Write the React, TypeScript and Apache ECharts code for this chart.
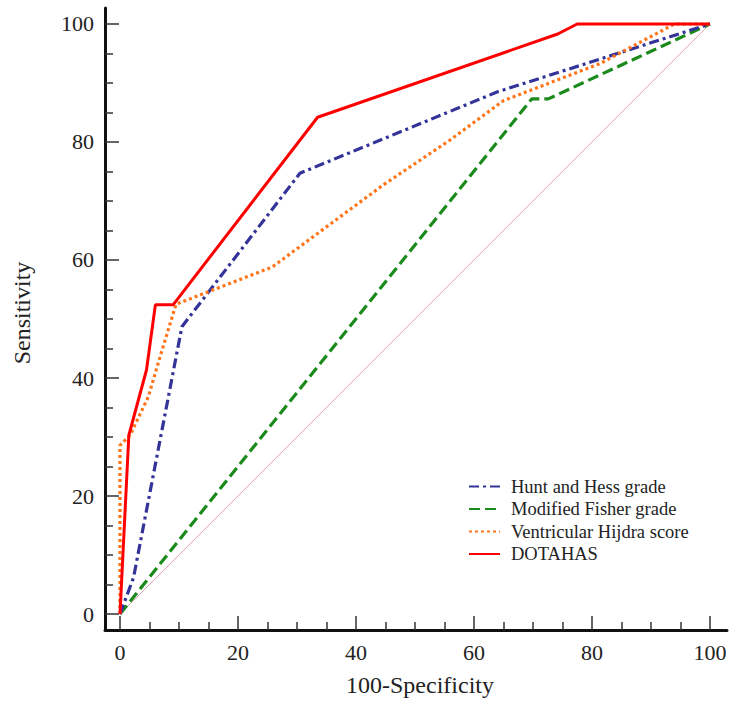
import React, { useEffect, useRef } from "react";
import * as echarts from "echarts";

const seriesNames = ["Hunt and Hess grade", "Modified Fisher grade", "Ventricular Hijdra score", "DOTAHAS"];

const hhX = [0, 2.3, 10.5, 30.5, 64, 100];
const hhY = [0, 6.2, 48.7, 74.7, 88.5, 100];

const mfX = [0, 69.8, 72.6, 100];
const mfY = [0, 87.3, 87.3, 100];

const vhX = [0, 0, 1.7, 4.8, 6.8, 9.5, 25.8, 33.5, 44.6, 55.9, 65, 81.4, 94, 100];
const vhY = [0, 28.6, 30.3, 36.8, 43.6, 52.5, 58.8, 64.5, 72.7, 80.3, 87, 93.3, 100, 100];

const dtX = [0, 1.5, 4.5, 6, 9, 33.5, 74.2, 77.5, 100];
const dtY = [0, 30.3, 41.4, 52.4, 52.4, 84.2, 98.3, 100, 100];

const refX = [0, 100];
const refY = [0, 100];

const majorTicks = [0, 20, 40, 60, 80, 100];
const minorTicks = [5, 10, 15, 25, 30, 35, 45, 50, 55, 65, 70, 75, 85, 90, 95];

const xTitle = "100-Specificity";
const yTitle = "Sensitivity";

const pairs = (xs: number[], ys: number[]) => xs.map((x, i) => [x, ys[i]]);

const FONT = "'Liberation Serif', 'Times New Roman', Times, serif";

export default function App() {
  const ref = useRef<HTMLDivElement>(null);
  useEffect(() => {
    if (!ref.current) return;
    const chart = echarts.init(ref.current, undefined, { renderer: "svg" });
    const xMin = -2.54, xMax = 102.9, yMin = -2.71, yMax = 102.71;
    const axisBase = (isX: boolean) => ({
      type: "value",
      min: isX ? xMin : yMin,
      max: isX ? xMax : yMax,
      splitLine: { show: false },
    });
    const tickStyle = { color: "#333", width: 1.5 };
    chart.setOption({
      animation: false,
      grid: { left: 105, right: 7, top: 8, bottom: 79, outerBoundsMode: "none" },
      graphic: [
        {
          type: "text",
          x: 22,
          y: 313,
          rotation: Math.PI / 2,
          style: { text: yTitle, fontFamily: FONT, fontSize: 24, fill: "#222", align: "center", verticalAlign: "middle" },
        },
        {
          type: "text",
          x: 420,
          y: 685,
          style: { text: xTitle, fontFamily: FONT, fontSize: 24, fill: "#222", align: "center", verticalAlign: "middle" },
        },
      ],
      legend: {
        data: seriesNames,
        orient: "vertical",
        left: 463,
        top: 472,
        itemWidth: 31,
        itemHeight: 12,
        itemGap: 3.5,
        itemStyle: { opacity: 0 },
        textStyle: { fontFamily: FONT, fontSize: 18.5, color: "#222", padding: [0, 0, 0, 6] },
      },
      xAxis: [
        {
          ...axisBase(true),
          position: "bottom",
          axisLine: { show: true, onZero: false, lineStyle: { color: "#111", width: 3 } },
          axisTick: { show: true, inside: true, length: 14, customValues: majorTicks, lineStyle: tickStyle },
          axisLabel: { customValues: majorTicks, fontFamily: FONT, fontSize: 22, color: "#222", margin: 11 },
        },
        {
          ...axisBase(true),
          position: "bottom",
          axisLine: { show: false, onZero: false },
          axisTick: { show: true, inside: true, length: 8, customValues: minorTicks, lineStyle: tickStyle },
          axisLabel: { show: false },
        },
      ],
      yAxis: [
        {
          ...axisBase(false),
          position: "left",
          axisLine: { show: true, onZero: false, lineStyle: { color: "#111", width: 3 } },
          axisTick: { show: true, inside: true, length: 14, customValues: majorTicks, lineStyle: tickStyle },
          axisLabel: { customValues: majorTicks, fontFamily: FONT, fontSize: 22, color: "#222", margin: 11 },
        },
        {
          ...axisBase(false),
          position: "left",
          axisLine: { show: false, onZero: false },
          axisTick: { show: true, inside: true, length: 8, customValues: minorTicks, lineStyle: tickStyle },
          axisLabel: { show: false },
        },
      ],
      series: [
        {
          type: "line",
          name: "ref",
          data: pairs(refX, refY),
          symbol: "none",
          lineStyle: { color: "#d08a9c", width: 0.8 },
          silent: true,
        },
        {
          type: "line",
          name: seriesNames[1],
          data: pairs(mfX, mfY),
          symbol: "none",
          color: "#1a8a1a",
          itemStyle: { opacity: 0 },
          lineStyle: { color: "#1a8a1a", width: 3.2, type: [11, 5] },
        },
        {
          type: "line",
          name: seriesNames[0],
          data: pairs(hhX, hhY),
          symbol: "none",
          color: "#333399",
          itemStyle: { opacity: 0 },
          lineStyle: { color: "#333399", width: 3.2, type: [10, 4, 3, 4] },
        },
        {
          type: "line",
          name: seriesNames[2],
          data: pairs(vhX, vhY),
          symbol: "none",
          color: "#ff7518",
          itemStyle: { opacity: 0 },
          lineStyle: { color: "#ff7518", width: 3.2, type: [3, 3] },
        },
        {
          type: "line",
          name: seriesNames[3],
          data: pairs(dtX, dtY),
          symbol: "none",
          color: "#ff0000",
          itemStyle: { opacity: 0 },
          lineStyle: { color: "#ff0000", width: 3 },
        },
      ],
    });
    return () => chart.dispose();
  }, []);
  return <div ref={ref} style={{ width: 734, height: 709, position: "absolute", left: 0, top: 0, background: "#fff" }} />;
}
